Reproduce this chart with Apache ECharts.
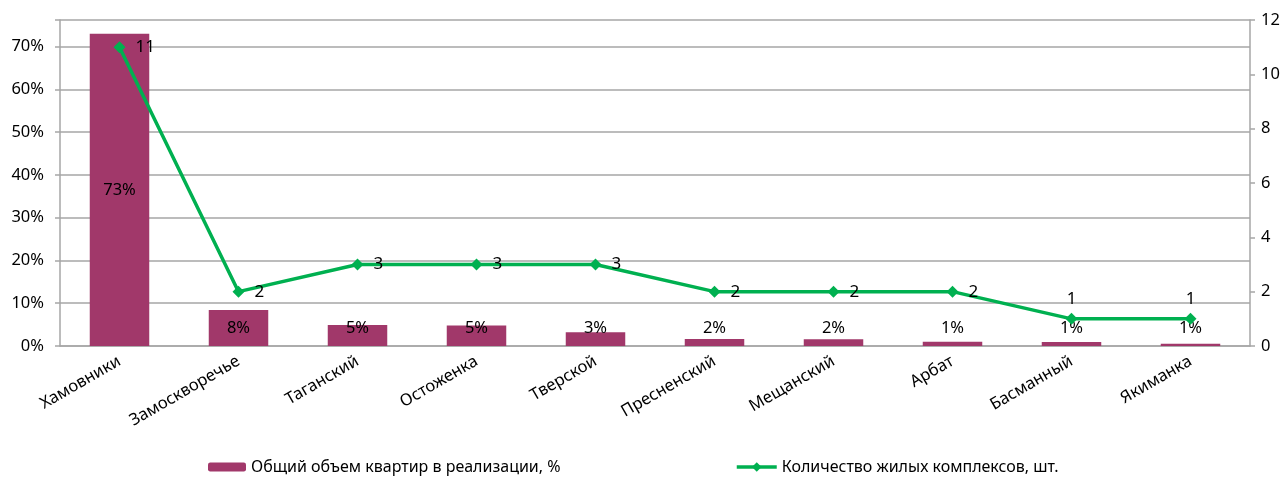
<!DOCTYPE html>
<html>
<head>
<meta charset="utf-8">
<script src="https://cdn.jsdelivr.net/npm/echarts@6/dist/echarts.min.js"></script>
<style>
  html, body { margin: 0; padding: 0; background: #fff; }
  #chart { width: 1288px; height: 479px; }
</style>
</head>
<body>
<div id="chart"></div>
<script>
// Districts of central Moscow
const districts = ['Хамовники', 'Замоскворечье', 'Таганский', 'Остоженка', 'Тверской',
  'Пресненский', 'Мещанский', 'Арбат', 'Басманный', 'Якиманка'];
// Share of total flats on sale (fraction)
const volumeShare = [0.73, 0.084, 0.049, 0.048, 0.032, 0.0164, 0.0157, 0.010, 0.0094, 0.0054];
// Number of residential complexes
const complexCount = [11, 2, 3, 3, 3, 2, 2, 2, 1, 1];

const barName = 'Общий объем квартир в реализации, %';
const lineName = 'Количество жилых комплексов, шт.';

const FONT = 'Noto Sans';
const AXIS_GREY = '#a6a6a6';
const BAR_COLOR = '#a1386a';
const LINE_COLOR = '#00b050';

const barData = volumeShare.map(v => ({
  value: v,
  label: v > 0.06
    ? { position: 'inside' }
    : { position: 'insideBottom', distance: 9 }
}));

const lineData = complexCount.map((v, i) => ({
  value: v,
  label: { position: i >= 8 ? 'top' : 'right', distance: i >= 8 ? 5 : 10 }
}));

const legendText = { fontSize: 16, color: '#000', fontFamily: FONT };

const chart = echarts.init(document.getElementById('chart'));
chart.setOption({
  animation: false,
  textStyle: { fontFamily: FONT },
  grid: { left: 60, right: 38, top: 20, bottom: 133 },
  legend: [
    {
      data: [barName], left: 208, top: 459, padding: 0, itemWidth: 38, itemHeight: 9,
      itemGap: 4, textStyle: legendText,
      itemStyle: { borderWidth: 0 }
    },
    {
      data: [lineName], left: 735, top: 459, padding: 0, itemWidth: 40, itemHeight: 12,
      itemGap: 4, textStyle: legendText,
      lineStyle: { width: 3.5 }
    }
  ],
  xAxis: {
    type: 'category',
    data: districts,
    axisLine: { lineStyle: { color: AXIS_GREY, width: 1.5 } },
    axisTick: { length: 5, lineStyle: { color: AXIS_GREY, width: 1.5 } },
    axisLabel: { rotate: 30, fontSize: 16.5, color: '#000', margin: 14, interval: 0 }
  },
  yAxis: [
    {
      type: 'value', min: 0, max: 0.762, interval: 0.1,
      axisLine: { show: true, lineStyle: { color: AXIS_GREY, width: 1.5 } },
      axisTick: { show: true, length: 5, lineStyle: { color: AXIS_GREY, width: 1.5 } },
      splitLine: { lineStyle: { color: AXIS_GREY, width: 1.5 } },
      axisLabel: {
        fontSize: 16.5, color: '#000', margin: 16,
        formatter: v => (v > 0.75 ? '' : Math.round(v * 100) + '%')
      }
    },
    {
      type: 'value', min: 0, max: 12, interval: 2, position: 'right',
      axisLine: { show: true, lineStyle: { color: AXIS_GREY, width: 1.5 } },
      axisTick: { show: true, length: 5, lineStyle: { color: AXIS_GREY, width: 1.5 } },
      splitLine: { show: false },
      axisLabel: { fontSize: 16.5, color: '#000', margin: 11 }
    }
  ],
  series: [
    {
      name: barName,
      type: 'bar',
      yAxisIndex: 0,
      data: barData,
      barWidth: '50%',
      itemStyle: { color: BAR_COLOR },
      label: {
        show: true, fontSize: 16.5, color: '#000',
        formatter: p => Math.round(p.value * 100) + '%'
      }
    },
    {
      name: lineName,
      type: 'line',
      yAxisIndex: 1,
      data: lineData,
      symbol: 'diamond',
      symbolSize: 12,
      lineStyle: { color: LINE_COLOR, width: 3.5 },
      itemStyle: { color: LINE_COLOR },
      label: { show: true, fontSize: 17, color: '#000' }
    }
  ]
});
</script>
</body>
</html>
